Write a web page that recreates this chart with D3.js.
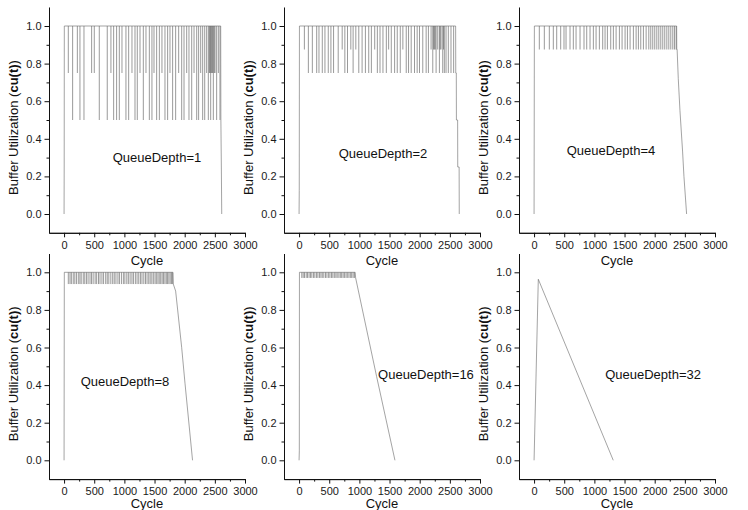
<!DOCTYPE html>
<html><head><meta charset="utf-8">
<script src="https://cdn.jsdelivr.net/npm/d3@7"></script>
<style>body{margin:0;background:#fff}svg{display:block;font-family:Arial,"Liberation Sans",sans-serif}</style>
</head><body><div id="chart"></div>
<script>
const xTicks=[0,500,1000,1500,2000,2500,3000];
const xMinor=[250,750,1250,1750,2250,2750];
const yTicks=[0,0.2,0.4,0.6,0.8,1.0];
const yMinor=[0.1,0.3,0.5,0.7,0.9];
const depths=[1,2,4,8,16,32];

// run envelope: start-up, plateau at full, drain  [cycle, cu(t)]
const qd1Path=[[0,0],[2,0.25],[4,1],[2597,1],[2600,0.5],[2608,0.25],[2614,0]];
const qd2Path=[[0,0],[3,0.125],[6,1],[2596,1],[2598,0.75],[2607,0.75],[2609,0.5],[2629,0.5],[2631,0.25],[2654,0.25],[2656,0]];
const qd4Path=[[0,0],[5,1],[2364,1],[2366,0.875],[2372,0.875],[2391,0.72],[2419,0.55],[2463,0.33],[2485,0.2],[2529,0]];
const qd8Path=[[0,0],[4,1],[1805,1],[1811,0.9375],[1850,0.9],[1950,0.6],[2005,0.41],[2130,0]];
const qd16Path=[[0,0],[4,0.05],[6,1],[930,1],[938,0.97],[1286,0.445],[1590,0]];
const qd32Path=[[0,0],[70,0.963],[1313,0]];

// single-cycle dips below full  [cycle, cu(t)]
const qd1Dips=[[70,0.75],[142,0.5],[220,0.75],[263,0.5],[330,0.5],[457,0.75],[501,0.75],[584,0.5],[716,0.5],[777,0.75],
  [822,0.5],[871,0.5],[916,0.5],[960,0.75],[1026,0.5],[1071,0.5],[1126,0.75],[1176,0.5],[1214,0.5],[1259,0.75],
  [1314,0.5],[1358,0.75],[1414,0.5],[1457,0.5],[1491,0.75],[1535,0.5],[1580,0.5],[1623,0.75],[1673,0.5],[1717,0.5],
  [1756,0.75],[1800,0.5],[1850,0.5],[1900,0.75],[1950,0.5],[1989,0.5],[2033,0.75],[2071,0.5],[2116,0.5],[2155,0.75],
  [2199,0.5],[2231,0.5],[2265,0.75],[2298,0.5],[2332,0.5],[2364,0.75],[2392,0.5],[2409,0.75],[2420,0.75],[2431,0.5],
  [2440,0.75],[2453,0.75],[2465,0.75],[2475,0.5],[2490,0.75],[2503,0.75],[2530,0.5],[2558,0.75],[2585,0.5]];
const qd2Dips=[[88,0.875],[154,0.75],[220,0.75],[292,0.75],[330,0.75],[385,0.75],[429,0.75],[484,0.75],[528,0.75],[572,0.75],
  [649,0.75],[715,0.875],[759,0.75],[803,0.75],[858,0.875],[896,0.75],[941,0.875],[990,0.75],[1045,0.75],[1100,0.75],
  [1155,0.75],[1199,0.75],[1254,0.875],[1298,0.75],[1342,0.75],[1391,0.75],[1447,0.75],[1485,0.875],[1529,0.75],[1584,0.75],
  [1628,0.75],[1678,0.75],[1721,0.875],[1777,0.75],[1815,0.75],[1859,0.75],[1914,0.75],[1958,0.75],[1997,0.75],[2051,0.75],
  [2107,0.75],[2145,0.75],[2189,0.875],[2217,0.75],[2230,0.875],[2244,0.875],[2258,0.875],[2272,0.75],[2299,0.875],[2327,0.75],
  [2340,0.875],[2354,0.875],[2382,0.75],[2395,0.875],[2409,0.75],[2437,0.75],[2475,0.75],[2519,0.75],[2563,0.75]];
const qd4Dips=[[87,0.875],[170,0.875],[253,0.875],[319,0.875],[375,0.875],[441,0.875],[496,0.875],[530,0.875],[596,0.875],[651,0.875],
  [696,0.875],[762,0.875],[828,0.875],[873,0.875],[928,0.875],[983,0.875],[1028,0.875],[1083,0.875],[1138,0.875],[1177,0.875],
  [1216,0.875],[1271,0.875],[1315,0.875],[1360,0.875],[1415,0.875],[1459,0.875],[1509,0.875],[1548,0.875],[1592,0.875],[1647,0.875],
  [1692,0.875],[1730,0.875],[1769,0.875],[1813,0.875],[1858,0.875],[1902,0.875],[1935,0.875],[1968,0.875],[2001,0.875],[2035,0.875],
  [2068,0.875],[2101,0.875],[2134,0.875],[2167,0.875],[2201,0.875],[2234,0.875],[2267,0.875],[2300,0.875],[2328,0.875],[2356,0.875]];
const qd8Dips=[[70,0.9375],[98,0.9375],[121,0.9375],[152,0.9375],[178,0.9375],[205,0.9375],[236,0.9375],[262,0.9375],[284,0.9375],[318,0.9375],
  [343,0.9375],[371,0.9375],[398,0.9375],[430,0.9375],[455,0.9375],[482,0.9375],[515,0.9375],[540,0.9375],[571,0.9375],[596,0.9375],
  [628,0.9375],[655,0.9375],[690,0.9375],[716,0.9375],[742,0.9375],[775,0.9375],[806,0.9375],[832,0.9375],[860,0.9375],[893,0.9375],
  [918,0.9375],[951,0.9375],[983,0.9375],[1008,0.9375],[1040,0.9375],[1066,0.9375],[1095,0.9375],[1125,0.9375],[1150,0.9375],[1182,0.9375],
  [1210,0.9375],[1238,0.9375],[1266,0.9375],[1292,0.9375],[1322,0.9375],[1350,0.9375],[1376,0.9375],[1404,0.9375],[1428,0.9375],[1455,0.9375],
  [1480,0.9375],[1508,0.9375],[1530,0.9375],[1556,0.9375],[1578,0.9375],[1602,0.9375],[1626,0.9375],[1648,0.9375],[1672,0.9375],[1695,0.9375],
  [1716,0.9375],[1738,0.9375],[1760,0.9375],[1782,0.9375],[1800,0.9375]];
const qd16Dips=[[45,0.97],[68,0.97],[90,0.97],[118,0.97],[140,0.97],[166,0.97],[190,0.97],[212,0.97],[240,0.97],[262,0.97],
  [290,0.97],[312,0.97],[338,0.97],[362,0.97],[385,0.97],[410,0.97],[438,0.97],[462,0.97],[490,0.97],[512,0.97],
  [538,0.97],[560,0.97],[585,0.97],[610,0.97],[632,0.97],[660,0.97],[684,0.97],[706,0.97],[730,0.97],[752,0.97],
  [778,0.97],[800,0.97],[826,0.97],[850,0.97],[872,0.97],[896,0.97],[918,0.97]];
const qd32Dips=[];

(function(){
  const paths=[qd1Path,qd2Path,qd4Path,qd8Path,qd16Path,qd32Path];
  const dips=[qd1Dips,qd2Dips,qd4Dips,qd8Dips,qd16Dips,qd32Dips];
  const colX=[49,284,519], pw=196;
  const rows=[{top:7.2,bot:232.8,cyc:260},{top:253.5,bot:479.1,cyc:503.5}];
  // label anchor in data units, per panel
  const lab=[[1540,0.30],[1391,0.324],[1275,0.34],[1010,0.42],[2104,0.454],[1973,0.454]];
  const svg=d3.select("#chart").append("svg").attr("width",748).attr("height",510);
  depths.forEach((qd,i)=>{
    const r=rows[Math.floor(i/3)], x0=colX[i%3];
    const x=d3.scaleLinear().domain([-250,3000]).range([x0,x0+pw]);
    const y=d3.scaleLinear().domain([-0.1,1.1]).range([r.bot,r.top]);
    const g=svg.append("g");
    const style=s=>s.call(a=>a.select(".domain").attr("stroke","#111"))
      .call(a=>a.selectAll("line").attr("stroke","#111"))
      .call(a=>a.selectAll("text").attr("fill","#1a1a1a").attr("font-size",11).attr("font-family",null));
    g.append("g").attr("transform",`translate(0,${r.bot})`)
      .call(d3.axisBottom(x).tickValues(xMinor).tickSize(2.5).tickSizeOuter(0).tickFormat(""))
      .call(style);
    g.append("g").attr("transform",`translate(0,${r.bot})`)
      .call(d3.axisBottom(x).tickValues(xTicks).tickSize(4.5).tickSizeOuter(0).tickPadding(3.5).tickFormat(d3.format("d")))
      .call(style);
    g.append("g").attr("transform",`translate(${x0},0)`)
      .call(d3.axisLeft(y).tickValues(yMinor).tickSize(2.5).tickSizeOuter(0).tickFormat(""))
      .call(style);
    g.append("g").attr("transform",`translate(${x0},0)`)
      .call(d3.axisLeft(y).tickValues(yTicks).tickSize(4.5).tickSizeOuter(0).tickPadding(3).tickFormat(d3.format(".1f")))
      .call(style);
    g.selectAll("line.dip").data(dips[i]).join("line").attr("class","dip")
      .attr("x1",d=>x(d[0])).attr("x2",d=>x(d[0])).attr("y1",y(1)).attr("y2",d=>y(d[1]))
      .attr("stroke","#555").attr("stroke-width",0.6);
    const line=d3.line().x(d=>x(d[0])).y(d=>y(d[1]));
    g.append("path").datum(paths[i]).attr("d",line).attr("fill","none")
      .attr("stroke","#666").attr("stroke-width",0.6);
    g.append("text").attr("x",x(lab[i][0])).attr("y",y(lab[i][1])).attr("text-anchor","middle")
      .attr("dominant-baseline","central").attr("font-size",13).attr("fill","#111").text("QueueDepth="+qd);
    g.append("text").attr("x",x0+pw/2).attr("y",r.cyc).attr("text-anchor","middle")
      .attr("dominant-baseline","central").attr("font-size",13).attr("fill","#111").text("Cycle");
    const yl=g.append("text").attr("transform",`translate(${x0-31},${y(0.46)}) rotate(-90)`)
      .attr("text-anchor","middle").attr("font-size",13).attr("fill","#111");
    yl.append("tspan").text("Buffer Utilization (");
    yl.append("tspan").attr("font-weight","bold").text("cu(t)");
    yl.append("tspan").text(")");
  });
})();
</script>
</body></html>
